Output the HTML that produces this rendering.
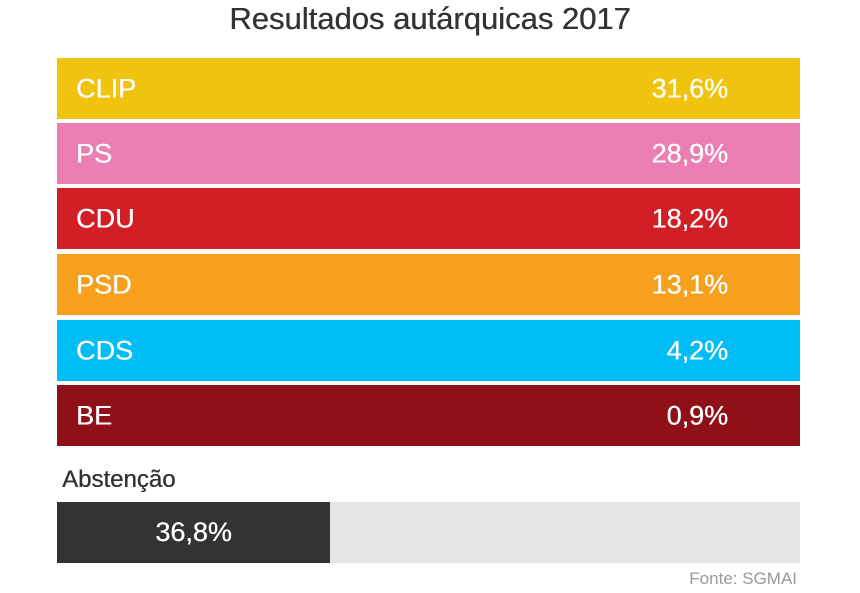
<!DOCTYPE html>
<html><head><meta charset="utf-8"><style>
body{margin:0;width:860px;height:593px;background:#fff;font-family:"Liberation Sans",sans-serif;position:relative;overflow:hidden}
.t{position:absolute;left:0;width:860px;top:1px;text-align:center;font-size:31px;color:#333;text-shadow:0.4px 0 0 #333}
.b{position:absolute;left:57px;width:743px;height:61px;color:#fff;font-size:27px}
.b span{position:absolute;top:50%;transform:translateY(-50%);text-shadow:0.4px 0 0 #fff}
.b .l{left:19px}.b .r{right:72px}
</style></head><body>
<div class="t">Resultados autárquicas 2017</div>
<div class="b" style="top:58px;background:#f0c30f"><span class="l">CLIP</span><span class="r">31,6%</span></div>
<div class="b" style="top:123px;background:#eb7fb3"><span class="l">PS</span><span class="r">28,9%</span></div>
<div class="b" style="top:188px;background:#d21f26"><span class="l">CDU</span><span class="r">18,2%</span></div>
<div class="b" style="top:254px;background:#f6a01e"><span class="l">PSD</span><span class="r">13,1%</span></div>
<div class="b" style="top:320px;background:#00bef5"><span class="l">CDS</span><span class="r">4,2%</span></div>
<div class="b" style="top:385px;background:#8f1019"><span class="l">BE</span><span class="r">0,9%</span></div>
<div style="position:absolute;left:62px;top:466px;font-size:24px;color:#333;text-shadow:0.4px 0 0 #333">Abstenção</div>
<div style="position:absolute;left:57px;top:502px;width:743px;height:61px;background:#e5e5e5"></div>
<div style="position:absolute;left:57px;top:502px;width:273px;height:61px;background:#333;color:#fff;font-size:27px;text-align:center;line-height:61px;text-shadow:0.4px 0 0 #fff">36,8%</div>
<div style="position:absolute;right:63px;top:569px;font-size:17px;color:#999">Fonte: SGMAI</div>
</body></html>
